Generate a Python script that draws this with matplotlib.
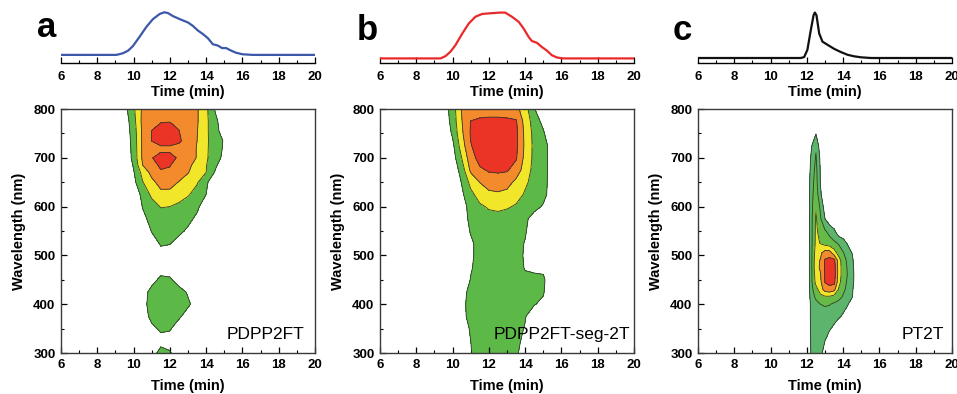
import numpy as np
import matplotlib
matplotlib.use('Agg')
import matplotlib.pyplot as plt
from matplotlib.ticker import MultipleLocator

plt.rcParams['font.family'] = ['Liberation Sans', 'DejaVu Sans']

# --- top traces (normalised signal vs time) ---
ta = [6, 9.06, 9.42, 9.7, 9.97, 10.34, 10.71, 11.07, 11.44, 11.7, 11.9, 12.17, 12.54, 13.0, 13.27,
      13.55, 13.82, 14.1, 14.37, 14.64, 14.88, 15.1, 15.38, 15.65, 16.0, 16.57, 20]
ia = [0, 0, 0.04, 0.1, 0.21, 0.43, 0.66, 0.84, 0.96, 1.0, 0.98, 0.91, 0.84, 0.76, 0.68,
      0.57, 0.49, 0.39, 0.25, 0.22, 0.16, 0.16, 0.1, 0.05, 0.015, 0, 0]
tb = [6, 9.33, 9.61, 9.88, 10.16, 10.53, 10.89, 11.26, 11.63, 12.08, 12.63, 12.9, 13.27, 13.64,
      13.92, 14.19, 14.37, 14.65, 14.92, 15.2, 15.47, 15.75, 16.1, 20]
ib = [0, 0, 0.05, 0.145, 0.29, 0.54, 0.76, 0.91, 0.97, 0.985, 1.0, 1.0, 0.91, 0.8,
      0.65, 0.47, 0.38, 0.34, 0.25, 0.17, 0.07, 0.02, 0, 0]
tc = [6, 11.66, 11.85, 12.03, 12.22, 12.37, 12.44, 12.53, 12.68, 12.86, 13.14, 13.51, 13.88,
      14.25, 14.62, 14.99, 15.54, 20]
ic = [0, 0, 0.02, 0.18, 0.62, 0.94, 1.0, 0.94, 0.54, 0.36, 0.29, 0.2, 0.13,
      0.07, 0.036, 0.015, 0, 0]

# --- contour maps (intensity level, rows listed from 800 nm down) ---
ta_grid = [9.0, 9.5, 10.0, 10.5, 11.0, 11.5, 12.0, 12.5, 13.0, 13.5, 14.0, 14.5, 15.0, 15.5, 16.0]
wla = [800, 775, 755, 735, 718, 700, 685, 670, 650, 625, 600, 575, 550, 525, 500, 475, 450,
       425, 400, 375, 350, 325, 300]
za = [
    [0, 0.64, 1.82, 3.2, 3.5, 3.7, 3.75, 3.7, 3.5, 3.1, 2.23, 0.9, 0, 0, 0],
    [0, 0.4, 1.63, 3.3, 3.6, 3.9, 3.95, 3.85, 3.6, 3.1, 2.22, 1.28, 0.3, 0, 0],
    [0, 0.3, 1.5, 3.2, 4.02, 4.5, 4.5, 4.02, 3.5, 3.05, 2.2, 1.35, 0.5, 0, 0],
    [0, 0.25, 1.4, 3.2, 4.02, 4.4, 4.4, 4.15, 3.6, 3.0, 2.17, 1.5, 0.9, 0, 0],
    [0, 0.2, 1.35, 3.2, 3.6, 3.75, 3.75, 3.65, 3.45, 2.95, 2.15, 1.5, 0.85, 0, 0],
    [0, 0.15, 1.3, 3.2, 3.95, 4.4, 4.35, 3.85, 3.45, 2.95, 2.15, 1.4, 0.75, 0, 0],
    [0, 0.05, 1.1, 3.0, 3.7, 4.15, 4.05, 3.6, 3.2, 2.7, 2.05, 1.2, 0.3, 0, 0],
    [0, 0, 0.9, 2.35, 3.3, 3.9, 3.85, 3.5, 3.05, 2.5, 2.0, 0.9, 0, 0, 0],
    [0, 0, 0.7, 1.95, 2.75, 3.35, 3.4, 2.95, 2.55, 2.1, 1.2, 0.2, 0, 0, 0],
    [0, 0, 0.25, 1.3, 2.2, 2.75, 2.7, 2.4, 2.1, 1.6, 1.0, 0, 0, 0, 0],
    [0, 0, 0, 1.05, 1.6, 2.05, 2.0, 1.8, 1.5, 1.2, 0.4, 0, 0, 0, 0],
    [0, 0, 0, 0.75, 1.3, 1.55, 1.5, 1.4, 1.25, 0.8, 0, 0, 0, 0, 0],
    [0, 0, 0, 0.3, 1.05, 1.35, 1.3, 1.2, 0.85, 0, 0, 0, 0, 0, 0],
    [0, 0, 0, 0, 0.6, 1.1, 1.05, 0.7, 0.3, 0, 0, 0, 0, 0, 0],
    [0, 0, 0, 0, 0.3, 0.7, 0.6, 0.4, 0.2, 0, 0, 0, 0, 0, 0],
    [0, 0, 0, 0, 0.2, 0.6, 0.5, 0.3, 0.1, 0, 0, 0, 0, 0, 0],
    [0, 0, 0, 0, 0.7, 1.2, 1.15, 0.6, 0.2, 0, 0, 0, 0, 0, 0],
    [0, 0, 0, 0.6, 1.3, 1.5, 1.45, 1.35, 0.9, 0.2, 0, 0, 0, 0, 0],
    [0, 0, 0, 0.7, 1.35, 1.5, 1.5, 1.4, 1.15, 0.6, 0, 0, 0, 0, 0],
    [0, 0, 0, 0.55, 1.25, 1.45, 1.4, 1.15, 0.6, 0, 0, 0, 0, 0, 0],
    [0, 0, 0, 0, 0.8, 1.15, 1.1, 0.5, 0, 0, 0, 0, 0, 0, 0],
    [0, 0, 0, 0, 0.3, 0.7, 0.6, 0.2, 0, 0, 0, 0, 0, 0, 0],
    [0, 0, 0, 0, 0.6, 1.3, 1.1, 0.4, 0, 0, 0, 0, 0, 0, 0],
]

tb_grid = ta_grid
wlb = [800, 775, 750, 725, 700, 675, 650, 625, 600, 575, 550, 525, 500, 475, 450, 425, 400,
       375, 350, 325, 300]
zb = [
    [0, 0.4, 1.49, 3.05, 3.3, 3.45, 3.5, 3.5, 3.45, 3.3, 2.43, 1.08, 0, 0, 0],
    [0, 0.3, 1.38, 2.95, 4.02, 4.2, 4.25, 4.25, 4.2, 4.1, 2.6, 1.55, 0.7, 0, 0],
    [0, 0.1, 1.15, 2.8, 4.1, 4.4, 4.45, 4.45, 4.4, 4.25, 2.75, 1.7, 1.15, 0, 0],
    [0, 0, 0.75, 2.5, 3.95, 4.4, 4.45, 4.45, 4.4, 4.25, 2.8, 1.75, 1.35, 0.6, 0],
    [0, 0, 0.5, 2.0, 3.6, 4.35, 4.4, 4.4, 4.3, 4.1, 2.7, 1.75, 1.35, 0.6, 0],
    [0, 0, 0.2, 1.45, 3.2, 3.85, 4.1, 4.15, 4.1, 3.6, 2.5, 1.7, 1.35, 0.6, 0],
    [0, 0, 0, 1.05, 2.3, 3.02, 3.5, 3.55, 3.4, 2.75, 2.15, 1.7, 1.35, 0.55, 0],
    [0, 0, 0, 0.8, 1.75, 2.4, 2.75, 2.85, 2.7, 2.35, 1.9, 1.6, 1.3, 0.5, 0],
    [0, 0, 0, 0.5, 1.4, 1.85, 2.1, 2.2, 2.1, 1.9, 1.6, 1.3, 0.9, 0, 0],
    [0, 0, 0, 0.4, 1.3, 1.6, 1.7, 1.7, 1.6, 1.45, 1.2, 0.6, 0, 0, 0],
    [0, 0, 0, 0.2, 1.1, 1.5, 1.6, 1.6, 1.5, 1.35, 1.1, 0.4, 0, 0, 0],
    [0, 0, 0, 0, 0.8, 1.4, 1.5, 1.5, 1.45, 1.3, 0.95, 0.3, 0, 0, 0],
    [0, 0, 0, 0, 0.8, 1.4, 1.5, 1.5, 1.45, 1.3, 0.9, 0.3, 0, 0, 0],
    [0, 0, 0, 0, 0.9, 1.4, 1.5, 1.5, 1.45, 1.3, 0.95, 0.8, 0.75, 0, 0],
    [0, 0, 0, 0.2, 1.05, 1.45, 1.5, 1.5, 1.45, 1.35, 1.15, 1.25, 1.2, 0.15, 0],
    [0, 0, 0, 0.75, 1.2, 1.45, 1.5, 1.5, 1.45, 1.35, 1.1, 1.2, 1.1, 0.05, 0],
    [0, 0, 0, 0.8, 1.25, 1.45, 1.5, 1.5, 1.45, 1.35, 1.1, 1.05, 0.8, 0, 0],
    [0, 0, 0, 0.75, 1.25, 1.45, 1.5, 1.5, 1.45, 1.3, 1.05, 0.5, 0, 0, 0],
    [0, 0, 0, 0.3, 1.15, 1.4, 1.5, 1.5, 1.4, 1.25, 0.95, 0.3, 0, 0, 0],
    [0, 0, 0, 0.2, 1.0, 1.4, 1.5, 1.5, 1.4, 1.2, 0.8, 0.2, 0, 0, 0],
    [0, 0, 0, 0.1, 0.95, 1.4, 1.5, 1.5, 1.35, 1.1, 0.7, 0.1, 0, 0, 0],
]

tc_grid = [11.75, 12.0, 12.25, 12.5, 12.75, 13.0, 13.25, 13.5, 13.75, 14.0, 14.25, 14.5, 14.75, 15.0, 15.25]
wlc = [800, 775, 750, 725, 700, 675, 650, 625, 600, 575, 550, 525, 505, 490, 475, 460, 445,
       430, 415, 400, 375, 350, 325, 300]
zc = [
    [0, 0, 0, 0, 0, 0, 0, 0, 0, 0, 0, 0, 0, 0, 0],
    [0, 0, 0, 0, 0, 0, 0, 0, 0, 0, 0, 0, 0, 0, 0],
    [0, 0, 0.4, 0.95, 0.3, 0, 0, 0, 0, 0, 0, 0, 0, 0, 0],
    [0, 0, 0.9, 1.85, 0.4, 0, 0, 0, 0, 0, 0, 0, 0, 0, 0],
    [0, 0, 1.2, 2.1, 0.8, 0, 0, 0, 0, 0, 0, 0, 0, 0, 0],
    [0, 0, 1.4, 2.3, 0.9, 0, 0, 0, 0, 0, 0, 0, 0, 0, 0],
    [0, 0, 1.6, 2.4, 0.95, 0, 0, 0, 0, 0, 0, 0, 0, 0, 0],
    [0, 0, 1.65, 2.6, 1.2, 0, 0, 0, 0, 0, 0, 0, 0, 0, 0],
    [0, 0, 1.7, 2.9, 1.8, 0.5, 0, 0, 0, 0, 0, 0, 0, 0, 0],
    [0, 0, 1.75, 3.15, 2.1, 1.0, 0.3, 0, 0, 0, 0, 0, 0, 0, 0],
    [0, 0, 1.75, 3.2, 2.6, 2.1, 1.7, 1.2, 0.3, 0, 0, 0, 0, 0, 0],
    [0, 0, 1.75, 3.25, 2.95, 2.6, 2.4, 2.2, 1.9, 1.6, 0.85, 0, 0, 0, 0],
    [0, 0, 1.8, 3.5, 3.8, 4.5, 4.5, 3.5, 2.6, 2.05, 1.65, 0.95, 0.1, 0, 0],
    [0, 0, 1.8, 3.7, 4.05, 5.1, 5.3, 5.3, 3.5, 2.4, 1.8, 1.2, 0.2, 0, 0],
    [0, 0, 1.8, 3.75, 4.1, 5.1, 5.4, 5.5, 3.6, 2.5, 1.9, 1.3, 0.3, 0, 0],
    [0, 0, 1.8, 3.5, 3.95, 5.1, 5.4, 5.5, 3.6, 2.5, 1.95, 1.35, 0.4, 0, 0],
    [0, 0, 1.8, 3.3, 3.8, 5.05, 5.3, 5.3, 3.4, 2.4, 1.85, 1.3, 0.35, 0, 0],
    [0, 0, 1.7, 2.6, 3.5, 4.4, 4.6, 4.3, 2.9, 2.2, 1.75, 1.15, 0.2, 0, 0],
    [0, 0, 1.5, 2.2, 2.7, 2.85, 2.85, 2.6, 2.35, 1.9, 1.6, 1.05, 0.1, 0, 0],
    [0, 0, 1.3, 1.7, 2.0, 2.1, 2.05, 1.85, 1.65, 1.4, 1.1, 0.4, 0, 0, 0],
    [0, 0, 1.3, 1.5, 1.6, 1.6, 1.5, 1.35, 1.15, 0.85, 0.3, 0, 0, 0, 0],
    [0, 0, 1.25, 1.4, 1.35, 1.25, 1.1, 0.8, 0.3, 0, 0, 0, 0, 0, 0],
    [0, 0, 1.2, 1.3, 1.2, 1.0, 0.5, 0, 0, 0, 0, 0, 0, 0, 0],
    [0, 0, 1.15, 1.25, 1.15, 0.75, 0.2, 0, 0, 0, 0, 0, 0, 0, 0],
]

names = ['PDPP2FT', 'PDPP2FT-seg-2T', 'PT2T']
letters = ['a', 'b', 'c']
trace_colors = ['#3d58a8', '#ea2a2a', '#111111']

green, yellow, orange, red = '#5cb947', '#f2e62b', '#f38b2d', '#eb3326'
cols_ab = [green, yellow, orange, red]
cols_c = ['#5db46c', '#66ba48', yellow, orange, red]

fig = plt.figure(figsize=(9.57, 3.94), dpi=100)

lefts = [61, 380, 698]
width = 254
W, H = 957., 394.

traces = [(ta, ia, -0.19), (tb, ib, -0.10), (tc, ic, -0.11)]
maps = [(ta_grid, wla, za, cols_ab), (tb_grid, wlb, zb, cols_ab), (tc_grid, wlc, zc, cols_c)]
name_x = [0.96, 0.985, 0.97]
letter_pos = [(37, 37), (357, 40), (673, 40)]

for k in range(3):
    # top trace
    axt = fig.add_axes([lefts[k] / W, 1 - 63 / H, width / W, 55 / H])
    t, y, ylo = traces[k]
    axt.plot(t, y, color=trace_colors[k], lw=1.6)
    axt.set_xlim(6, 20)
    axt.set_ylim(ylo, 1.1)
    for s in ['top', 'left', 'right']:
        axt.spines[s].set_visible(False)
    axt.spines['bottom'].set_linewidth(1.0)
    axt.set_yticks([])
    axt.xaxis.set_major_locator(MultipleLocator(2))
    axt.xaxis.set_minor_locator(MultipleLocator(1))
    axt.tick_params(axis='x', which='major', direction='in', length=4, width=0.9, pad=6)
    axt.tick_params(axis='x', which='minor', direction='in', length=2, width=0.8)
    for lab in axt.get_xticklabels():
        lab.set_fontsize(9.5)
        lab.set_fontweight('bold')
    axt.set_xlabel('Time (min)', fontsize=10.5, fontweight='bold', labelpad=1)
    axt.patch.set_alpha(0)

    # contour map
    ax = fig.add_axes([lefts[k] / W, 1 - 353 / H, width / W, 244 / H])
    tg, wl, z, cols = maps[k]
    z = np.array(z)[::-1]
    wl = np.array(wl)[::-1]
    lev = list(range(1, len(cols) + 1)) + [100]
    ax.contourf(tg, wl, z, levels=lev, colors=cols)
    ax.contour(tg, wl, z, levels=lev[:-1], colors='#2e3a2a', linewidths=0.6)
    ax.set_xlim(6, 20)
    ax.set_ylim(300, 800)
    ax.xaxis.set_major_locator(MultipleLocator(2))
    ax.xaxis.set_minor_locator(MultipleLocator(1))
    ax.yaxis.set_major_locator(MultipleLocator(100))
    ax.yaxis.set_minor_locator(MultipleLocator(50))
    ax.tick_params(which='major', direction='in', length=4.5, width=0.9, pad=4)
    ax.tick_params(which='minor', direction='in', length=2.5, width=0.8)
    for s in ax.spines.values():
        s.set_color('#3a3a3a')
        s.set_linewidth(1.0)
    for lab in ax.get_xticklabels() + ax.get_yticklabels():
        lab.set_fontsize(9.5)
        lab.set_fontweight('bold')
    ax.set_xlabel('Time (min)', fontsize=10.5, fontweight='bold', labelpad=6)
    ax.set_ylabel('Wavelength (nm)', fontsize=10.5, fontweight='bold', labelpad=5)
    ax.text(name_x[k], 0.075, names[k], transform=ax.transAxes, ha='right', va='center',
            fontsize=12.5)

    lx, ly = letter_pos[k]
    fig.text(lx / W, 1 - ly / H, letters[k], fontsize=25, fontweight='bold', va='baseline')

fig.savefig('out.png', dpi=100)
